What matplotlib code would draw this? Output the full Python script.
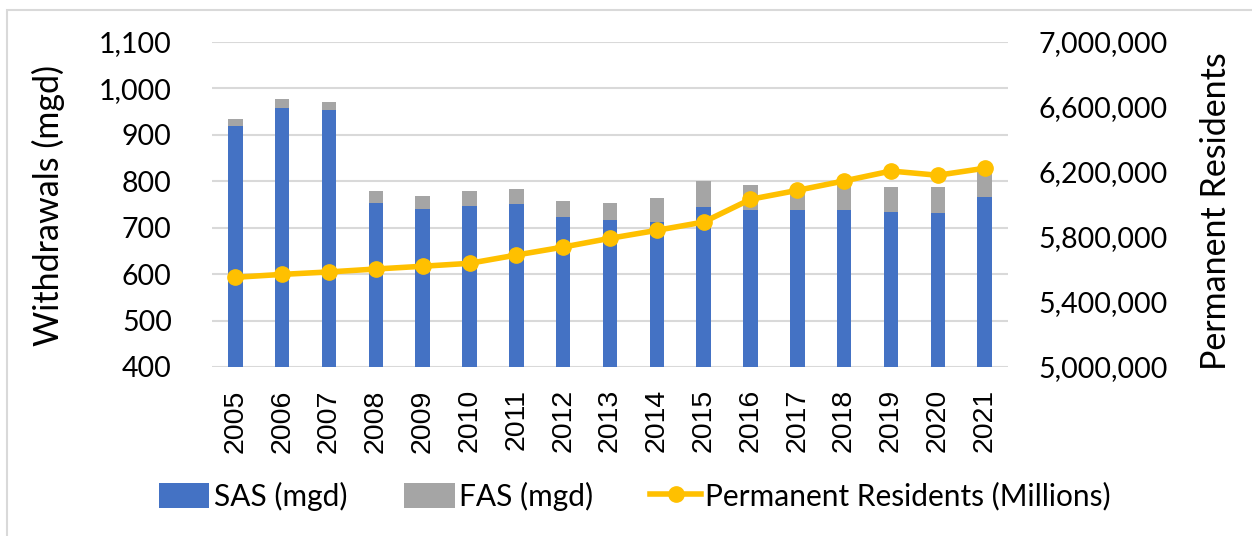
import matplotlib.pyplot as plt
from matplotlib.patches import Rectangle
from matplotlib.ticker import FuncFormatter
import numpy as np

years = ['2005', '2006', '2007', '2008', '2009', '2010', '2011', '2012', '2013',
         '2014', '2015', '2016', '2017', '2018', '2019', '2020', '2021']
sas = [920, 958, 953, 753, 741, 747, 751, 724, 716, 712, 744, 738, 738, 739, 733, 731, 766]
fas = [15, 20, 17, 27, 27, 33, 32, 34, 37, 52, 56, 53, 47, 56, 54, 56, 58]
residents = [5552000, 5570000, 5585000, 5603000, 5620000, 5638000, 5689000, 5738000, 5792000,
             5841000, 5892000, 6032000, 6087000, 6145000, 6206000, 6180000, 6223000]

plt.rcParams['font.family'] = ['Lato', 'DejaVu Sans']

fig = plt.figure(figsize=(12.52, 5.36), dpi=100)
ax = fig.add_axes([212 / 1252, 1 - 367 / 536, (1008 - 212) / 1252, (367 - 42) / 536])

# light chart-area border
fig.patches.append(Rectangle((7 / 1252, -0.1), 1.2, 1 - 10 / 536 + 0.1, transform=fig.transFigure,
                             facecolor='none', edgecolor='#d9d9d9', linewidth=1.5))

x = np.arange(len(years))
w = 0.31
ax.bar(x, sas, w, color='#4472C4', label='SAS (mgd)', zorder=2)
ax.bar(x, fas, w, bottom=sas, color='#A5A5A5', label='FAS (mgd)', zorder=2)

ax.set_ylim(400, 1100)
ax.set_yticks(range(400, 1101, 100))
ax.yaxis.set_major_formatter(FuncFormatter(lambda v, p: f'{int(v):,}'))
ax.set_xlim(-0.5, len(years) - 0.5)
ax.set_xticks(x)
ax.set_xticklabels(years, rotation=90, fontfamily='Liberation Sans', fontsize=20.5)
ax.grid(axis='y', color='#d9d9d9', linewidth=1.5, zorder=0)
ax.set_axisbelow(True)
for s in ax.spines.values():
    s.set_visible(False)
ax.tick_params(axis='both', length=0)
ax.tick_params(axis='y', labelsize=20.5, pad=29)
ax.tick_params(axis='x', pad=16)
ax.set_ylabel('Withdrawals (mgd)', fontsize=24.5)
ax.yaxis.set_label_coords(65 / 1252, 1 - 205 / 536, transform=fig.transFigure)

ax2 = ax.twinx()
ax2.plot(x, residents, color='#FFC000', linewidth=4, marker='o', markersize=11,
         label='Permanent Residents (Millions)', zorder=3)
ax2.set_ylim(5000000, 7000000)
ax2.set_yticks(range(5000000, 7000001, 400000))
ax2.yaxis.set_major_formatter(FuncFormatter(lambda v, p: f'{int(v):,}'))
for s in ax2.spines.values():
    s.set_visible(False)
ax2.tick_params(axis='y', length=0, labelsize=20.5, pad=22)
ax2.set_ylabel('Permanent Residents', fontsize=24.5, rotation=90)
ax2.yaxis.set_label_coords(1200 / 1252, 1 - 211 / 536, transform=fig.transFigure)

h1, l1 = ax.get_legend_handles_labels()
h2, l2 = ax2.get_legend_handles_labels()
fig.legend(h1 + h2, l1 + l2, loc='center', bbox_to_anchor=(0.507, 1 - 496 / 536), ncol=3,
           frameon=False, fontsize=21.5, handlelength=1.7, handleheight=0.9, columnspacing=1.9,
           handletextpad=0.15)

fig.savefig('out.png', dpi=100)
